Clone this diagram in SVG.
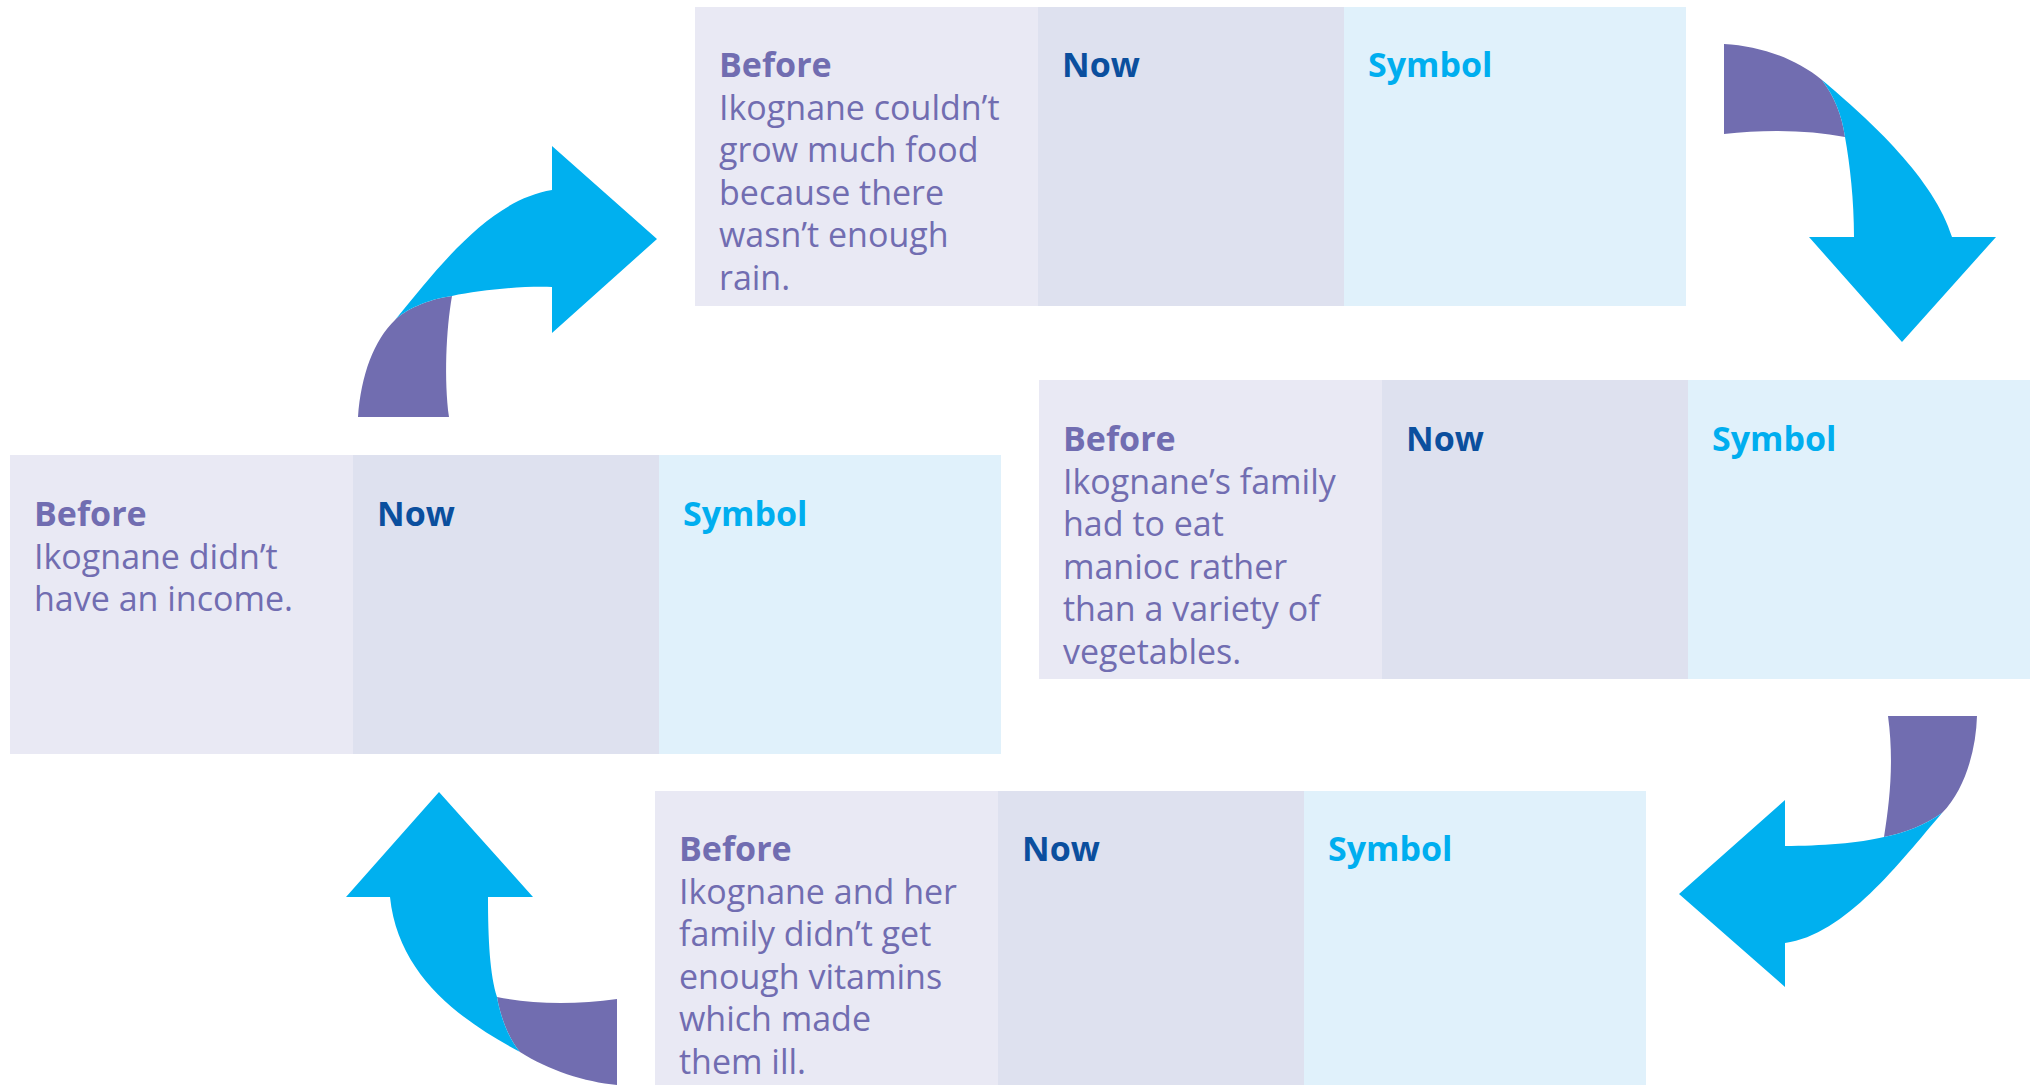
<svg xmlns="http://www.w3.org/2000/svg" width="2035" height="1085" viewBox="0 0 2035 1085">
<style>
.c1{fill:#e9e9f4}
.c2{fill:#dee1ef}
.c3{fill:#e0f1fb}
text{font-family:"Open Sans","Noto Sans","Liberation Sans",sans-serif;font-size:34px}
.hb{font-weight:700;fill:#716db1}
.hn{font-weight:700;fill:#0b4f9e}
.hs{font-weight:700;fill:#00aeef}
.bt{font-weight:500;fill:#716db1}
.ap{fill:#716db0}
.ab{fill:#00b0ef}
</style>
<rect width="2035" height="1085" fill="#ffffff"/>
<g id="node-top">
<rect class="c1" x="695" y="7" width="343" height="299"/>
<rect class="c2" x="1038" y="7" width="306" height="299"/>
<rect class="c3" x="1344" y="7" width="342" height="299"/>
<text class="hb" x="719" y="77">Before</text>
<text class="bt" x="719" y="119.5">Ikognane couldn’t<tspan x="719" dy="42.5">grow much food</tspan><tspan x="719" dy="42.5">because there</tspan><tspan x="719" dy="42.5">wasn’t enough</tspan><tspan x="719" dy="42.5">rain.</tspan></text>
<text class="hn" x="1062" y="77">Now</text>
<text class="hs" x="1368" y="77">Symbol</text>
</g>
<g id="node-right">
<rect class="c1" x="1039" y="380" width="343" height="299"/>
<rect class="c2" x="1382" y="380" width="306" height="299"/>
<rect class="c3" x="1688" y="380" width="342" height="299"/>
<text class="hb" x="1063" y="451">Before</text>
<text class="bt" x="1063" y="493.5">Ikognane’s family<tspan x="1063" dy="42.5">had to eat</tspan><tspan x="1063" dy="42.5">manioc rather</tspan><tspan x="1063" dy="42.5">than a variety of</tspan><tspan x="1063" dy="42.5">vegetables.</tspan></text>
<text class="hn" x="1406" y="451">Now</text>
<text class="hs" x="1712" y="451">Symbol</text>
</g>
<g id="node-bottom">
<rect class="c1" x="655" y="791" width="343" height="299"/>
<rect class="c2" x="998" y="791" width="306" height="299"/>
<rect class="c3" x="1304" y="791" width="342" height="299"/>
<text class="hb" x="679" y="861">Before</text>
<text class="bt" x="679" y="903.5">Ikognane and her<tspan x="679" dy="42.5">family didn’t get</tspan><tspan x="679" dy="42.5">enough vitamins</tspan><tspan x="679" dy="42.5">which made</tspan><tspan x="679" dy="42.5">them ill.</tspan></text>
<text class="hn" x="1022" y="861">Now</text>
<text class="hs" x="1328" y="861">Symbol</text>
</g>
<g id="node-left">
<rect class="c1" x="10" y="455" width="343" height="299"/>
<rect class="c2" x="353" y="455" width="306" height="299"/>
<rect class="c3" x="659" y="455" width="342" height="299"/>
<text class="hb" x="34" y="526">Before</text>
<text class="bt" x="34" y="568.5">Ikognane didn’t<tspan x="34" dy="42.5">have an income.</tspan></text>
<text class="hn" x="377" y="526">Now</text>
<text class="hs" x="683" y="526">Symbol</text>
</g>
<g id="connectors">
<g id="arrow-left-to-top">
<path class="ap" d="M358,417 C361,375 374,340 395,320 C405,310 428,299 452,296 C446,330 444,380 449,417 Z"/>
<path class="ab" d="M395,320 C440,265 490,200 552,190 L552,146 L657,239 L552,333 L552,287 C520,286 480,290 452,296 C428,299 405,310 395,320 Z"/>
</g>
<g id="arrow-top-to-right">
<path class="ap" d="M1724,44 C1760,46 1795,58 1822,80 C1834,96 1842,115 1845,137 C1810,130 1765,129 1724,134 Z"/>
<path class="ab" d="M1822,80 C1870,120 1935,180 1952,237 L1996,237 L1902,342 L1809,237 L1854,237 C1854,200 1850,165 1845,137 C1842,115 1834,96 1822,80 Z"/>
</g>
<g id="arrow-right-to-bottom">
<path class="ap" d="M1888,716 L1977,716 C1976,750 1965,790 1942,813 C1925,825 1905,833 1884,837 C1890,800 1894,760 1888,716 Z"/>
<path class="ab" d="M1942,813 C1900,862 1845,935 1785,943 L1785,987 L1679,894 L1785,800 L1785,846 C1820,846 1860,843 1884,837 C1905,833 1925,825 1942,813 Z"/>
</g>
<g id="arrow-bottom-to-left">
<path class="ap" d="M497,997 C530,1004 575,1005 617,999 L617,1085 C585,1082 548,1070 520,1052 C508,1038 500,1015 497,997 Z"/>
<path class="ab" d="M488,897 C488,940 490,975 497,997 C500,1015 508,1038 520,1052 C460,1020 398,975 390,897 L346,897 L439,792 L533,897 Z"/>
</g>
</g>
</svg>
